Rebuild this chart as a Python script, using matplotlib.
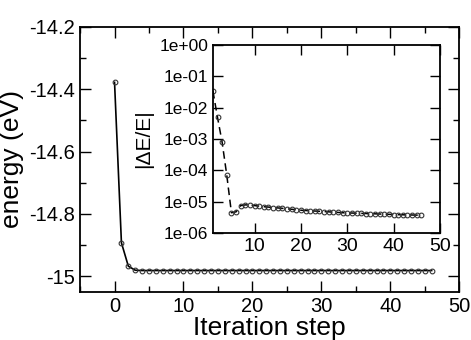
import numpy as np
import matplotlib.pyplot as plt
from matplotlib.ticker import MultipleLocator, FixedLocator, FuncFormatter

plt.rcParams['font.family'] = ['Liberation Sans', 'DejaVu Sans']

# energy per iteration step (main panel)
steps = list(range(0, 47))
energy = [-14.378, -14.893, -14.968, -14.981] + [-14.982] * 43

# relative energy change (inset)
steps_rel = list(range(1, 47))
rel_change = [3.4e-2, 4.9e-3, 7.8e-4, 7.0e-5, 4.5e-6, 4.8e-6, 7.6e-6, 8.0e-6,
              7.9e-6, 7.6e-6, 7.3e-6, 7.0e-6, 6.8e-6, 6.6e-6, 6.4e-6, 6.2e-6,
              6.0e-6, 5.8e-6, 5.6e-6, 5.4e-6, 5.3e-6, 5.2e-6, 5.1e-6, 5.0e-6,
              4.9e-6, 4.8e-6, 4.7e-6, 4.6e-6, 4.5e-6, 4.45e-6, 4.4e-6, 4.35e-6,
              4.3e-6, 4.25e-6, 4.2e-6, 4.15e-6, 4.1e-6, 4.05e-6, 4.0e-6, 3.95e-6,
              3.9e-6, 3.87e-6, 3.84e-6, 3.81e-6, 3.78e-6, 3.75e-6]

fig = plt.figure(figsize=(4.71, 3.40), dpi=100)

# --- main panel ---
ax = fig.add_axes([0.170, 0.142, 0.805, 0.779])
ax.plot(steps, energy, 'k-', lw=1.2, marker='o', ms=3.4, mfc='none',
        mec='#333333', mew=0.8)
ax.set_xlim(-5, 50)
ax.set_ylim(-15.05, -14.2)
ax.xaxis.set_major_locator(MultipleLocator(10))
ax.xaxis.set_minor_locator(MultipleLocator(5))
ax.yaxis.set_major_locator(MultipleLocator(0.2))
ax.yaxis.set_minor_locator(MultipleLocator(0.1))
ax.yaxis.set_major_formatter(FuncFormatter(lambda v, p: f"{v:g}"))
ax.tick_params(which='both', direction='in', top=True, right=True,
               labelsize=14.5, width=1.0)
ax.tick_params(which='major', length=8)
ax.tick_params(which='minor', length=4)
for s in ax.spines.values():
    s.set_linewidth(1.3)
ax.set_xlabel('Iteration step', fontsize=19, labelpad=0)
ax.set_ylabel('energy (eV)', fontsize=19, labelpad=4)

# --- inset ---
ins = fig.add_axes([0.452, 0.314, 0.482, 0.554])
ins.plot(steps_rel, rel_change, 'k--', lw=1.1, dashes=(5, 3), marker='o',
         ms=3.4, mfc='none', mec='#333333', mew=0.8)
ins.set_yscale('log')
ins.set_xlim(1, 50)
ins.set_ylim(1e-6, 1)
ins.xaxis.set_major_locator(FixedLocator([10, 20, 30, 40, 50]))
ins.yaxis.set_major_locator(FixedLocator([1e-6, 1e-5, 1e-4, 1e-3, 1e-2, 1e-1, 1]))
ins.yaxis.set_minor_locator(FixedLocator([]))
ins.yaxis.set_major_formatter(FuncFormatter(lambda v, p: f"{v:.0e}"))
ins.tick_params(which='both', direction='in', top=True, right=True,
                labelsize=12.5, length=7, width=1.0)
ins.tick_params(axis='x', labelsize=14)
for s in ins.spines.values():
    s.set_linewidth(1.3)
ins.set_ylabel('|ΔE/E|', fontsize=15, labelpad=4)

fig.savefig('out.png', dpi=100)
